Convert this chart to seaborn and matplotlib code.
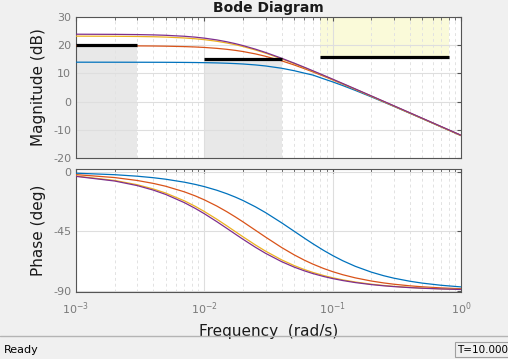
import numpy as np
import pandas as pd
import matplotlib
matplotlib.use('Agg')
import matplotlib.pyplot as plt
import seaborn as sns

freq = [0.001, 0.002, 0.003, 0.004, 0.005, 0.007, 0.0085, 0.01, 0.0125, 0.015,
        0.0175, 0.02, 0.025, 0.03, 0.04, 0.05, 0.06, 0.07, 0.085, 0.1,
        0.12, 0.15, 0.2, 0.25, 0.3, 0.4, 0.5, 0.7, 1.0]

mag_blue = [13.98, 13.97, 13.96, 13.95, 13.94, 13.90, 13.86, 13.81, 13.72, 13.61,
            13.48, 13.34, 13.01, 12.64, 11.83, 10.97, 10.11, 9.42, 8.08, 6.99,
            5.68, 3.98, 1.68, -0.17, -1.70, -4.15, -6.06, -8.96, -12.05]
mag_orange = [19.81, 19.79, 19.76, 19.72, 19.66, 19.51, 19.37, 19.21, 18.89, 18.54,
              18.16, 17.76, 16.92, 16.07, 14.46, 13.01, 11.71, 10.55, 9.03, 7.72,
              6.22, 4.35, 1.91, -0.01, -1.58, -4.06, -5.99, -8.91, -12.00]
mag_yellow = [23.22, 23.17, 23.10, 23.00, 22.88, 22.57, 22.28, 21.97, 21.40, 20.78,
              20.16, 19.53, 18.31, 17.18, 15.18, 13.49, 12.05, 10.80, 9.20, 7.83,
              6.29, 4.38, 1.91, -0.02, -1.60, -4.09, -6.02, -8.94, -12.04]
mag_purple = [23.90, 23.85, 23.77, 23.66, 23.52, 23.17, 22.86, 22.51, 21.88, 21.21,
              20.54, 19.87, 18.60, 17.43, 15.38, 13.66, 12.21, 10.94, 9.33, 7.96,
              6.41, 4.50, 2.02, 0.10, -1.48, -3.97, -5.91, -8.83, -11.93]

ph_blue = [-1.15, -2.29, -3.43, -4.57, -5.71, -7.97, -9.65, -11.31, -14.04, -16.70,
           -19.29, -21.80, -26.57, -30.96, -38.66, -45.00, -50.19, -54.46, -59.53, -63.43,
           -67.38, -71.57, -75.96, -78.69, -80.54, -82.87, -84.29, -85.91, -87.14]
ph_orange = [-2.23, -4.46, -6.67, -8.87, -11.03, -15.27, -18.34, -21.31, -25.99, -30.33,
             -34.31, -37.95, -44.28, -49.48, -57.34, -62.85, -66.86, -69.88, -73.21, -75.62,
             -77.94, -80.30, -82.69, -84.14, -85.11, -86.33, -87.06, -87.90, -88.53]
ph_yellow = [-3.32, -6.62, -9.87, -13.06, -16.17, -22.10, -26.24, -30.11, -35.94, -41.02,
             -45.43, -49.24, -55.41, -60.11, -66.68, -70.97, -73.97, -76.16, -78.53, -80.22,
             -81.82, -83.44, -85.07, -86.05, -86.71, -87.53, -88.02, -88.59, -89.01]
ph_purple = [-3.55, -7.07, -10.53, -13.93, -17.22, -23.46, -27.79, -31.80, -37.78, -42.92,
             -47.33, -51.11, -57.17, -61.74, -68.04, -72.12, -74.95, -77.03, -79.26, -80.84,
             -82.34, -83.86, -85.39, -86.31, -86.92, -87.69, -88.15, -88.68, -89.08]

series = ['s1', 's2', 's3', 's4']
cores = ['#0072BD', '#D95319', '#EDB120', '#7E2F8E']

# restricoes de ganho (limite inferior em cinza, superior em amarelo)
lim_inf_x = [(0.001, 0.003), (0.01, 0.04)]
lim_inf_y = [20, 15]
lim_sup_x = (0.08, 0.8)
lim_sup_y = 15.7

mags = [mag_blue, mag_orange, mag_yellow, mag_purple]
phs = [ph_blue, ph_orange, ph_yellow, ph_purple]
df = pd.concat([pd.DataFrame({'w': freq, 'mag': m, 'fase': p, 'sys': s})
                for m, p, s in zip(mags, phs, series)], ignore_index=True)

sns.set_style('white')
plt.rcParams['font.family'] = ['DejaVu Sans']
plt.rcParams['axes.unicode_minus'] = False

fig = plt.figure(figsize=(5.08, 3.59), dpi=100, facecolor='#f0f0f0')
ax1 = fig.add_axes([0.1496, 0.5599, 0.7579, 0.3927])
ax2 = fig.add_axes([0.1496, 0.1866, 0.7579, 0.3426])

cinza_tick = '#7a7a7a'
for ax in (ax1, ax2):
    ax.set_facecolor('white')
    ax.set_xscale('log')
    ax.set_xlim(1e-3, 1e0)
    ax.grid(True, which='major', color='#dedede', lw=0.8, ls='-')
    ax.grid(True, which='minor', axis='x', color='#e2e2e2', lw=0.7, ls=(0, (3, 3)))
    ax.tick_params(which='both', direction='in', top=True, right=True,
                   colors='#555555', labelcolor=cinza_tick, labelsize=8)
    ax.tick_params(which='major', length=3)
    ax.tick_params(which='minor', length=2)
    for sp in ax.spines.values():
        sp.set_color('#555555')
        sp.set_linewidth(0.8)
    ax.set_axisbelow(True)

# regioes sombreadas
for (x0, x1), y in zip(lim_inf_x, lim_inf_y):
    ax1.fill_between([x0, x1], -20, y, color='#e8e8e8', lw=0, zorder=0.5)
ax1.fill_between(list(lim_sup_x), lim_sup_y, 30, color='#fafad9', lw=0, zorder=0.5)

sns.lineplot(data=df, x='w', y='mag', hue='sys', palette=cores, sort=False,
             lw=0.9, legend=False, ax=ax1, zorder=3)
sns.lineplot(data=df, x='w', y='fase', hue='sys', palette=cores, sort=False,
             lw=0.9, legend=False, ax=ax2, zorder=3)

for (x0, x1), y in zip(lim_inf_x, lim_inf_y):
    ax1.plot([x0, x1], [y, y], color='black', lw=2.3, zorder=4, solid_capstyle='butt')
ax1.plot(list(lim_sup_x), [lim_sup_y, lim_sup_y], color='black', lw=2.3, zorder=4,
         solid_capstyle='butt')

ax1.set_ylim(-20, 30)
ax1.set_yticks([-20, -10, 0, 10, 20, 30])
ax1.tick_params(axis='x', labelbottom=False)
ax1.set_xlabel('')
ax1.set_ylabel('Magnitude (dB)', fontsize=11, color='#1a1a1a')

ax2.set_ylim(-91, 2)
ax2.set_yticks([-90, -45, 0])
ax2.tick_params(axis='x', which='major', pad=6)
ax2.set_xlabel('Frequency  (rad/s)', fontsize=11, color='#1a1a1a', labelpad=5)
ax2.set_ylabel('Phase (deg)', fontsize=11, color='#1a1a1a')
ax1.yaxis.set_label_coords(-0.078, 0.5)
ax2.yaxis.set_label_coords(-0.078, 0.5)

fig.text(0.528, 1 - 12 / 359, 'Bode Diagram', ha='center', va='baseline',
         fontsize=10, fontweight='bold', color='#1a1a1a')

# barra de status
fig.add_artist(plt.Line2D([0, 1], [0.0627, 0.0627], color='#b4b4b4', lw=1))
fig.text(0.008, 0.025, 'Ready', fontsize=8, va='center', color='black')
fig.text(0.9, 0.026, 'T=10.000', fontsize=7.5, va='center', color='black',
         bbox=dict(boxstyle='square,pad=0.25', fc='#f0f0f0', ec='#a0a0a0', lw=0.8))

fig.savefig('out.png', dpi=100, facecolor=fig.get_facecolor())
